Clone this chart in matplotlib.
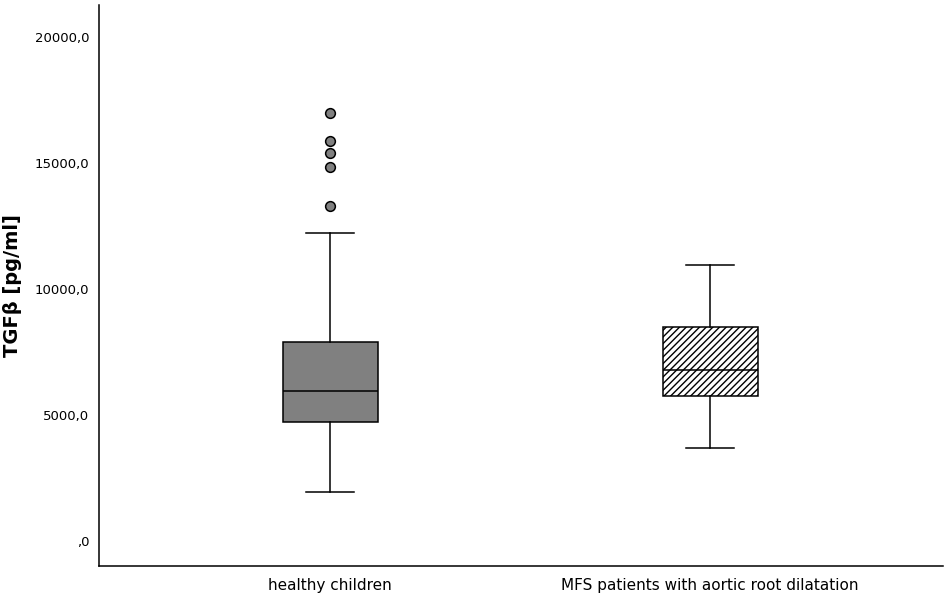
import matplotlib
matplotlib.use("Agg")
import matplotlib.pyplot as plt

plt.rcParams["hatch.linewidth"] = 1.0

# Box plot summary values (pg/ml)
groups = ["healthy children", "MFS patients with aortic root dilatation"]
whisker_low = [1940, 3700]
q1 = [4720, 5770]
medians = [5950, 6790]
q3 = [7900, 8500]
whisker_high = [12220, 10960]
outliers_healthy = [13290, 14830, 15390, 15890, 17000]
outliers_mfs = []

ytick_values = [0, 5000, 10000, 15000, 20000]
ytick_labels = [",0", "5000,0", "10000,0", "15000,0", "20000,0"]

stats = []
fliers = [outliers_healthy, outliers_mfs]
for i in range(len(groups)):
    stats.append({
        "whislo": whisker_low[i], "q1": q1[i], "med": medians[i],
        "q3": q3[i], "whishi": whisker_high[i], "fliers": fliers[i],
    })

fig = plt.figure(figsize=(9.48, 5.97), dpi=100)
ax = fig.add_axes([0.1044, 0.0524, 0.8903, 0.9392])

positions = [1, 2]
bp = ax.bxp(stats, positions=positions, widths=0.25, patch_artist=True,
            showfliers=True,
            boxprops=dict(linewidth=1.1, edgecolor="black"),
            medianprops=dict(color="black", linewidth=1.1),
            whiskerprops=dict(color="black", linewidth=1.1),
            capprops=dict(color="black", linewidth=1.1),
            capwidths=0.126,
            flierprops=dict(marker="o", markerfacecolor="#808080",
                            markeredgecolor="black", markersize=7,
                            markeredgewidth=1.1))

bp["boxes"][0].set_facecolor("#808080")
bp["boxes"][1].set_facecolor("white")
bp["boxes"][1].set_hatch("/////")

ax.set_xlim(0.392, 2.613)
ax.set_ylim(-980, 21270)
ax.set_xticks(positions)
ax.set_xticklabels(groups, fontsize=11)
ax.set_yticks(ytick_values)
ax.set_yticklabels(ytick_labels, fontsize=9.5)
ax.tick_params(axis="both", length=0)
ax.tick_params(axis="y", pad=7)
ax.tick_params(axis="x", pad=9)

ax.set_ylabel("TGFβ [pg/ml]", fontsize=14, fontweight="bold", labelpad=9)

ax.spines["top"].set_visible(False)
ax.spines["right"].set_visible(False)
ax.spines["left"].set_linewidth(1.1)
ax.spines["bottom"].set_linewidth(1.1)

fig.savefig("out.png", dpi=100)
